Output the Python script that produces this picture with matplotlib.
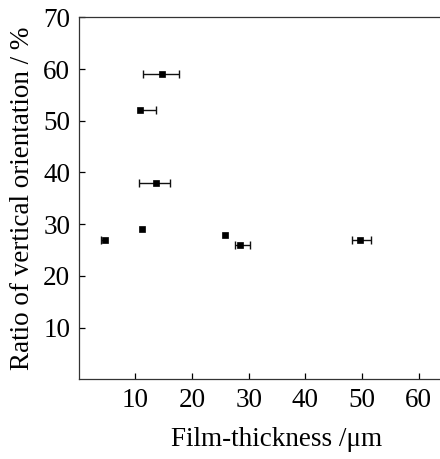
import matplotlib
matplotlib.use("Agg")
import matplotlib.pyplot as plt
import numpy as np

thickness = [14.7, 10.9, 13.6, 4.7, 11.2, 25.8, 28.5, 49.6]
ratio = [59.0, 52.0, 38.0, 27.0, 29.0, 28.0, 26.0, 27.0]
xerr_low = [3.3, 0.0, 2.9, 0.8, 0.0, 0.0, 1.0, 1.3]
xerr_high = [3.0, 2.8, 2.6, 0.0, 0.0, 0.0, 1.8, 2.0]
xticks = [10, 20, 30, 40, 50, 60]
yticks = [10, 20, 30, 40, 50, 60, 70]

plt.rcParams['font.family'] = ['Liberation Serif', 'DejaVu Serif']

fig = plt.figure(figsize=(4.40, 4.59), dpi=100)
ax = fig.add_axes([78.6/440, (459-379.3)/459, 396.9/440, (379.3-17.3)/459])

x = np.array(thickness)
y = np.array(ratio)
lo = np.array(xerr_low)
hi = np.array(xerr_high)

ax.hlines(y, x - lo, x + hi, color='#111111', linewidth=1.0)
ml = lo > 0
mh = hi > 0
ax.plot(x[ml] - lo[ml], y[ml], linestyle='none', marker='|', color='#111111',
        markersize=5.8, markeredgewidth=1.0)
ax.plot(x[mh] + hi[mh], y[mh], linestyle='none', marker='|', color='#111111',
        markersize=5.8, markeredgewidth=1.0)
ax.plot(x, y, linestyle='none', marker='s', color='black',
        markersize=5, markeredgewidth=0.5, markeredgecolor='black')

ax.set_xlim(0, 70)
ax.set_ylim(0, 70)
ax.set_xticks(xticks)
ax.set_yticks(yticks)
ax.tick_params(direction='in', length=4, width=0.9, labelsize=19.5, pad=6)
ax.spines['right'].set_visible(False)
for s in ['left', 'bottom', 'top']:
    ax.spines[s].set_linewidth(0.9)
    ax.spines[s].set_color('#333333')

ax.set_xlabel('Film-thickness /μm', fontsize=19.5, labelpad=10)
ax.set_ylabel('Ratio of vertical orientation / %', fontsize=19.5, labelpad=6)

fig.savefig('out.png', dpi=100)
